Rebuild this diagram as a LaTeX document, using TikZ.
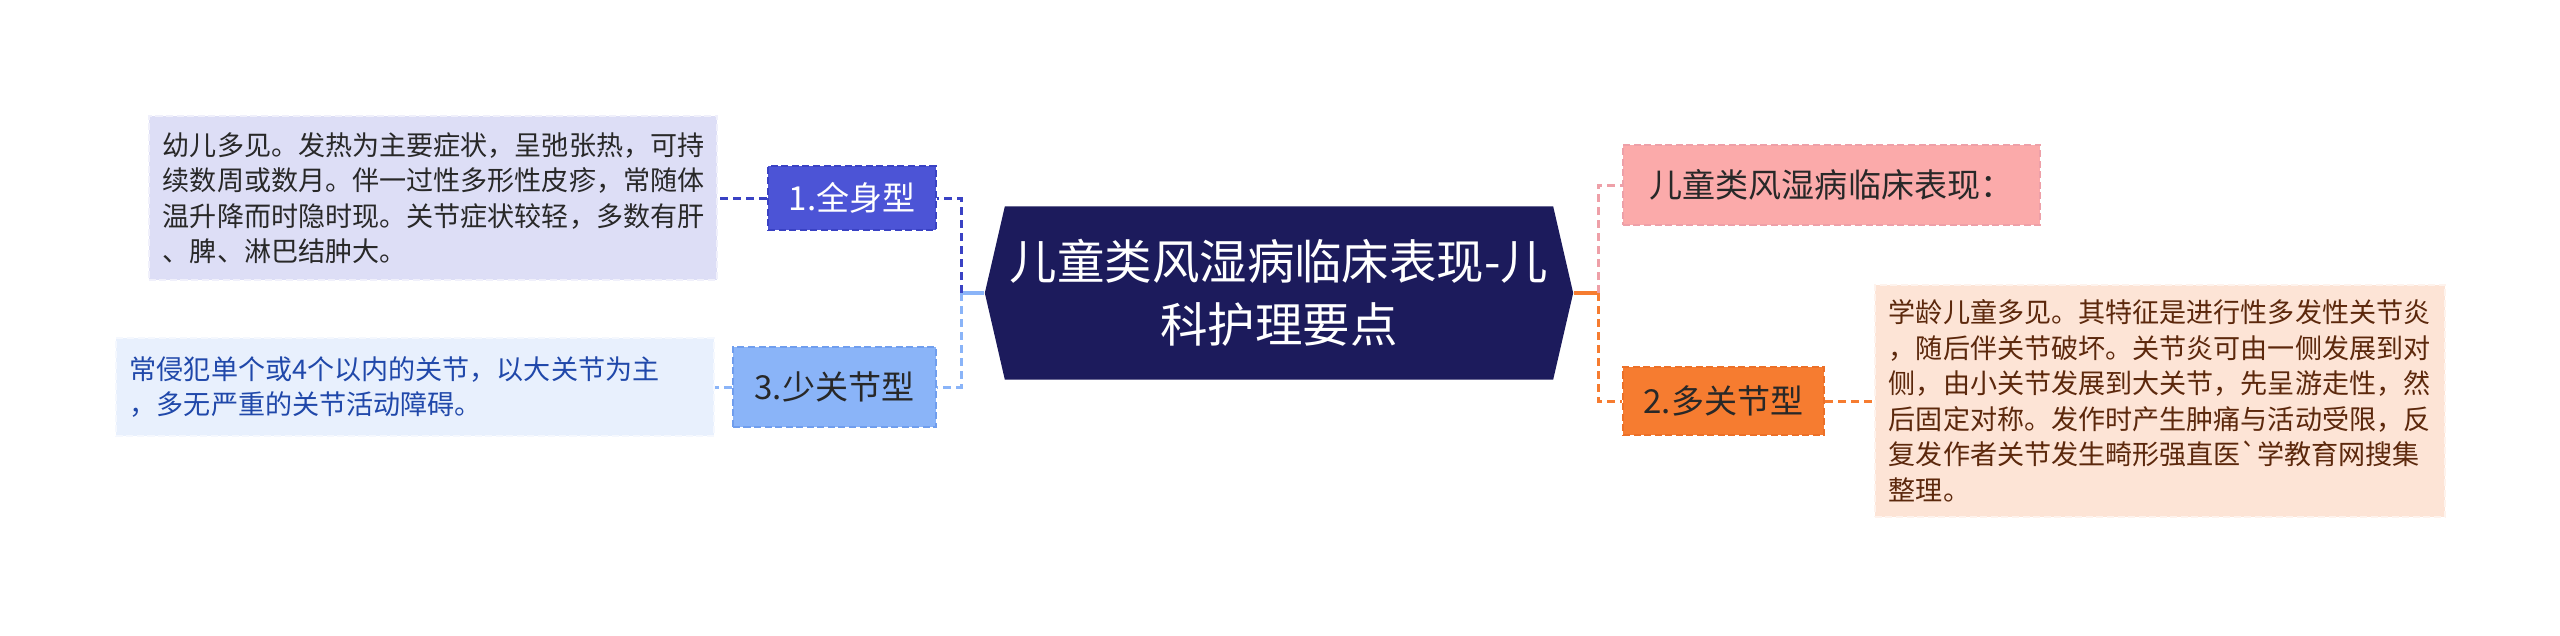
\documentclass[tikz,border=0pt]{standalone}
\usepackage{fontspec}
\newfontfamily\cjkfont{Noto Sans CJK SC}
\usetikzlibrary{shapes.symbols}
\definecolor{rootnavy}{RGB}{28,27,92}
\definecolor{quanblue}{RGB}{76,84,214}
\definecolor{quanline}{RGB}{58,66,196}
\definecolor{quanpale}{RGB}{221,222,246}
\definecolor{shaoblue}{RGB}{138,180,248}
\definecolor{shaoline}{RGB}{112,158,238}
\definecolor{shaopale}{RGB}{232,240,253}
\definecolor{shaotext}{RGB}{32,72,170}
\definecolor{pinkbox}{RGB}{251,170,170}
\definecolor{pinkline}{RGB}{238,160,168}
\definecolor{duoorange}{RGB}{246,124,48}
\definecolor{duoline}{RGB}{236,112,40}
\definecolor{duopale}{RGB}{253,228,214}
\definecolor{duotext}{RGB}{92,40,12}
\definecolor{darktext}{RGB}{40,40,40}
\tikzset{
  rootnode/.style={shape=signal, signal to=west and east, signal pointer angle=154,
    fill=rootnavy, text=white, align=center, minimum width=5.88cm, minimum height=1.73cm,
    inner sep=0pt, font=\cjkfont\fontsize{13.5}{18}\selectfont},
  typenode/.style={draw, dash pattern=on 2pt off 1pt, line width=0.6pt, inner sep=0pt,
    font=\cjkfont\fontsize{9.4}{12}\selectfont},
  notebox/.style={draw, dash pattern=on 2pt off 1pt, line width=0.6pt, align=left,
    inner xsep=0.14cm, inner ysep=0pt, font=\cjkfont\fontsize{7.7}{10.1}\selectfont},
  link/.style={line width=0.85pt, dash pattern=on 2.3pt off 1.4pt},
  stub/.style={line width=1.2pt}
}
\begin{document}
\begin{tikzpicture}[x=0.01cm,y=-0.01cm]
\fill[white] (0,0) rectangle (2560,635);

\node[rootnode] (root) at (1279,293) {儿童类风湿病临床表现-儿\\科护理要点};

\node[typenode, fill=quanblue, draw=quanline, text=white, minimum width=1.68cm, minimum height=0.64cm] (quan) at (852,198) {1.全身型};
\node[typenode, fill=shaoblue, draw=shaoline, text=darktext, minimum width=2.03cm, minimum height=0.80cm] (shao) at (834.5,387) {3.少关节型};
\node[typenode, fill=pinkbox, draw=pinkline, text=darktext, minimum width=4.17cm, minimum height=0.80cm] (biao) at (1831.5,185) {儿童类风湿病临床表现：};
\node[typenode, fill=duoorange, draw=duoline, text=darktext, minimum width=2.01cm, minimum height=0.68cm] (duo) at (1723.5,401) {2.多关节型};

\node[notebox, fill=quanpale, draw=white!55!quanpale, text=darktext, text width=5.4cm, minimum height=1.64cm] (quantxt) at (433,198)
  {幼儿多见。发热为主要症状，呈弛张热，可持\\续数周或数月。伴一过性多形性皮疹，常随体\\温升降而时隐时现。关节症状较轻，多数有肝\\、脾、淋巴结肿大。};
\node[notebox, fill=shaopale, draw=white!55!shaopale, text=shaotext, text width=5.7cm, minimum height=0.98cm] (shaotxt) at (415,387)
  {常侵犯单个或4个以内的关节，以大关节为主\\，多无严重的关节活动障碍。};
\node[notebox, fill=duopale, draw=white!55!duopale, text=duotext, text width=5.42cm, minimum height=2.32cm] (duotxt) at (2160,401)
  {学龄儿童多见。其特征是进行性多发性关节炎\\，随后伴关节破坏。关节炎可由一侧发展到对\\侧，由小关节发展到大关节，先呈游走性，然\\后固定对称。发作时产生肿痛与活动受限，反\\复发作者关节发生畸形强直医\char96 学教育网搜集\\整理。};

\coordinate (lj) at (961,293);
\coordinate (rj) at (1598,293);
\draw[stub, draw=shaoblue] (root.west) -- (lj);
\draw[link, draw=quanline] (lj) |- (quan.east);
\draw[link, draw=shaoblue] (lj) |- (shao.east);
\draw[link, draw=quanline] (quan.west) -- (quantxt.east);
\draw[link, draw=shaoblue] (shao.west) -- (shaotxt.east);
\draw[stub, draw=duoorange] (root.east) -- (rj);
\draw[link, draw=pinkline] (rj) |- (biao.west);
\draw[link, draw=duoorange] (rj) |- (duo.west);
\draw[link, draw=duoorange] (duo.east) -- (duotxt.west);

\end{tikzpicture}
\end{document}
